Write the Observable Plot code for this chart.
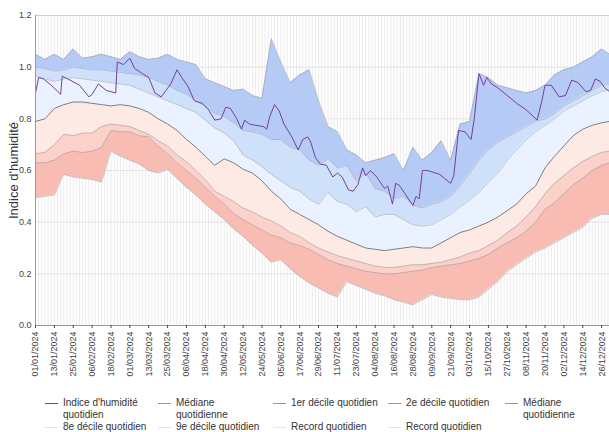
<!DOCTYPE html>
<html><head><meta charset="utf-8">
<script src="https://cdn.jsdelivr.net/npm/d3@7"></script>
<script src="https://cdn.jsdelivr.net/npm/@observablehq/plot@0.6"></script>
<style>
body{margin:0;background:#fff;font-family:"Liberation Sans",Arial,sans-serif;}
#legend{position:relative;width:609px;height:35px;font-size:10px;color:#333;}
.item{position:absolute;display:flex;align-items:flex-start;line-height:12px;white-space:pre-line;}
.sw{width:13px;height:0;border-top:1px solid;margin-top:6px;margin-right:5px;flex:none;}
</style></head><body>
<div id="chart"></div><div id="legend"></div>
<script>
// Day of year (0 = 01/01/2024)
const days = [0,6,12,18,24,30,36,42,48,54,60,66,72,78,84,90,96,102,108,114,120,126,132,138,144,150,156,162,168,174,180,186,192,198,204,210,216,222,228,234,240,246,252,258,264,270,276,282,288,294,300,306,312,318,324,330,336,342,348,354,360,365];
const recordMax = [1.05,1.03,1.05,1.03,1.07,1.035,1.04,1.05,1.04,1.03,1.06,1.04,1.03,1.035,1.05,1.03,1.02,1.01,0.955,0.94,0.925,0.91,0.915,0.89,0.88,1.11,1.02,0.94,0.97,0.99,0.87,0.77,0.75,0.68,0.66,0.63,0.64,0.65,0.665,0.60,0.69,0.64,0.67,0.715,0.64,0.78,0.79,0.975,0.96,0.93,0.92,0.91,0.90,0.91,0.93,0.97,0.99,1.00,1.02,1.04,1.07,1.05];
const decile9 = [1.00,0.995,0.985,0.99,1.00,0.995,0.99,0.99,0.985,0.98,0.975,0.97,0.96,0.945,0.93,0.91,0.895,0.87,0.85,0.82,0.81,0.785,0.755,0.75,0.74,0.72,0.72,0.69,0.68,0.64,0.62,0.645,0.61,0.62,0.56,0.59,0.53,0.52,0.49,0.50,0.465,0.455,0.47,0.48,0.50,0.54,0.59,0.64,0.68,0.71,0.73,0.75,0.77,0.79,0.80,0.82,0.85,0.87,0.89,0.91,0.93,0.935];
const decile8 = [0.965,0.955,0.945,0.955,0.96,0.955,0.95,0.945,0.94,0.935,0.93,0.915,0.90,0.885,0.87,0.855,0.84,0.825,0.795,0.765,0.745,0.715,0.66,0.64,0.615,0.585,0.56,0.535,0.52,0.49,0.47,0.515,0.48,0.47,0.44,0.46,0.42,0.43,0.43,0.41,0.39,0.385,0.39,0.41,0.43,0.46,0.485,0.515,0.555,0.59,0.64,0.68,0.72,0.75,0.775,0.80,0.83,0.85,0.87,0.89,0.905,0.915];
const median = [0.79,0.80,0.84,0.855,0.865,0.865,0.86,0.855,0.85,0.855,0.85,0.84,0.825,0.80,0.78,0.755,0.72,0.69,0.655,0.62,0.645,0.63,0.605,0.59,0.56,0.52,0.49,0.45,0.43,0.41,0.39,0.365,0.345,0.33,0.315,0.30,0.295,0.29,0.295,0.30,0.305,0.30,0.30,0.32,0.34,0.36,0.37,0.385,0.40,0.42,0.445,0.47,0.51,0.54,0.61,0.655,0.695,0.735,0.76,0.775,0.785,0.79];
const decile2 = [0.665,0.67,0.70,0.74,0.735,0.745,0.745,0.77,0.78,0.775,0.77,0.755,0.74,0.715,0.695,0.66,0.635,0.60,0.565,0.52,0.50,0.48,0.455,0.44,0.42,0.405,0.385,0.36,0.345,0.32,0.30,0.285,0.27,0.26,0.25,0.24,0.23,0.225,0.225,0.23,0.235,0.235,0.24,0.245,0.255,0.265,0.28,0.29,0.31,0.33,0.36,0.385,0.42,0.46,0.51,0.55,0.58,0.61,0.635,0.655,0.67,0.675];
const decile1 = [0.63,0.63,0.64,0.665,0.675,0.67,0.675,0.69,0.755,0.75,0.75,0.735,0.73,0.695,0.665,0.63,0.60,0.57,0.535,0.50,0.47,0.435,0.41,0.39,0.37,0.35,0.34,0.32,0.31,0.295,0.275,0.255,0.24,0.23,0.22,0.21,0.205,0.20,0.20,0.205,0.21,0.215,0.225,0.23,0.235,0.24,0.25,0.26,0.275,0.30,0.32,0.34,0.365,0.40,0.45,0.475,0.51,0.545,0.57,0.60,0.62,0.63];
const recordMin = [0.495,0.50,0.505,0.585,0.575,0.57,0.565,0.555,0.675,0.655,0.64,0.625,0.60,0.59,0.605,0.57,0.535,0.505,0.47,0.44,0.41,0.375,0.345,0.31,0.28,0.245,0.255,0.22,0.19,0.165,0.145,0.125,0.11,0.17,0.155,0.14,0.125,0.115,0.10,0.09,0.08,0.10,0.12,0.11,0.105,0.10,0.10,0.11,0.14,0.17,0.21,0.235,0.26,0.285,0.30,0.32,0.34,0.36,0.38,0.415,0.43,0.43];

// Daily humidity index
const lineDays = [0,2,5,10,16,17,22,28,34,36,40,45,51,52,56,60,63,68,72,76,80,83,86,90,93,97,101,106,110,114,118,121,124,128,131,133,136,140,145,147,149,152,155,158,163,167,170,173,175,178,181,185,189,192,195,199,202,205,208,210,213,217,222,224,227,229,231,235,240,242,244,246,249,252,257,260,264,266,269,273,277,279,282,285,287,290,294,300,306,312,319,322,324,328,333,337,341,345,350,353,356,359,362,365];
const lineValues = [0.90,0.96,0.955,0.93,0.895,0.965,0.95,0.93,0.885,0.895,0.935,0.91,0.90,1.02,1.01,1.035,0.995,0.975,0.96,0.90,0.885,0.91,0.935,0.99,0.96,0.925,0.87,0.86,0.835,0.795,0.80,0.845,0.84,0.80,0.76,0.795,0.78,0.775,0.77,0.76,0.81,0.855,0.83,0.78,0.73,0.68,0.72,0.73,0.71,0.65,0.625,0.62,0.575,0.59,0.575,0.525,0.52,0.545,0.61,0.58,0.60,0.575,0.53,0.54,0.47,0.55,0.545,0.51,0.465,0.50,0.49,0.60,0.60,0.595,0.585,0.57,0.55,0.58,0.755,0.75,0.72,0.80,0.975,0.93,0.96,0.935,0.92,0.89,0.86,0.835,0.795,0.87,0.93,0.93,0.885,0.89,0.95,0.94,0.905,0.91,0.955,0.945,0.92,0.905];

const tickLabels = ["01/01/2024","13/01/2024","25/01/2024","06/02/2024","18/02/2024","01/03/2024","13/03/2024","25/03/2024","06/04/2024","18/04/2024","30/04/2024","12/05/2024","24/05/2024","05/06/2024","17/06/2024","29/06/2024","11/07/2024","23/07/2024","04/08/2024","16/08/2024","28/08/2024","09/09/2024","21/09/2024","03/10/2024","15/10/2024","27/10/2024","08/11/2024","20/11/2024","02/12/2024","14/12/2024","26/12/2024"];
const yTicks = [0,0.2,0.4,0.6,0.8,1.0,1.2];
const yTitle = "Indice d'humidité";
const legendLabels = ["Indice d'humidité\nquotidien","Médiane\nquotidienne","1er décile quotidien","2e décile quotidien","Médiane\nquotidienne","8e décile quotidien","9e décile quotidien","Record quotidien","Record quotidien"];

const base = Date.UTC(2024,0,1);
const dayToDate = d => new Date(base + d*864e5);
const rows = days.map((d,i)=>({date:dayToDate(d), rmax:recordMax[i], d9:decile9[i], d8:decile8[i], med:median[i], d2:decile2[i], d1:decile1[i], rmin:recordMin[i]}));
const line = lineDays.map((d,i)=>({date:dayToDate(d), v:lineValues[i]}));
const tickDates = tickLabels.map(s=>{const [dd,mm,yy]=s.split("/").map(Number); return new Date(Date.UTC(yy,mm-1,dd));});
const labelOf = new Map(tickDates.map((t,i)=>[+t, tickLabels[i]]));
const gridDates = d3.range(0,366,2).map(dayToDate);

const bands = [
  ["rmax","d9","#b6caf6"],
  ["d9","d8","#cfe0fb"],
  ["d8","med","#e9f2fe"],
  ["med","d2","#fdeae5"],
  ["d2","d1","#fbd1c9"],
  ["d1","rmin","#f8bcb3"]
];
const edges = ["rmax","d9","d8","d2","d1","rmin"];

const plot = Plot.plot({
  width:609, height:397, marginLeft:35, marginRight:0, marginTop:15, marginBottom:72,
  style:{fontFamily:"Liberation Sans, Arial, sans-serif", fontSize:"9px", color:"#444", background:"#fff", overflow:"visible"},
  x:{type:"utc", domain:[dayToDate(0), dayToDate(365)]},
  y:{domain:[0,1.2]},
  marks:[
    Plot.ruleX(gridDates,{stroke:"#ebebeb", strokeWidth:1}),
    Plot.ruleY([0.2,0.4,0.6,0.8,1.0],{stroke:"#e4e4e4"}),
    Plot.ruleY([1.2],{stroke:"#cfcfcf"}),
    ...bands.map(([a,b,c])=>Plot.areaY(rows,{x:"date", y1:b, y2:a, fill:c})),
    ...edges.map(k=>Plot.line(rows,{x:"date", y:k, stroke:"#9a9aa6", strokeWidth:0.7, strokeOpacity:0.8})),
    Plot.line(rows,{x:"date", y:"med", stroke:"#7d7d85", strokeWidth:1}),
    Plot.line(line,{x:"date", y:"v", stroke:"#74409a", strokeWidth:1}),
    Plot.ruleY([0],{stroke:"#9a9a9a"}),
    Plot.ruleX([dayToDate(0)],{stroke:"#9a9a9a"}),
    Plot.axisY({ticks:yTicks, tickFormat:d3.format(".1f"), tickSize:0, tickPadding:4, label:null}),
    Plot.axisX({ticks:tickDates, tickFormat:d=>labelOf.get(+d), tickRotate:-90, tickSize:3, tickPadding:3, label:null}),
    Plot.text([yTitle],{text:d=>d, frameAnchor:"left", dx:-22, rotate:-90, textAnchor:"middle", fontSize:13, fill:"#333"})
  ]
});
document.getElementById("chart").appendChild(plot);

// Legend
const legendColors = ["#74409a","#999","#999","#999","#999","#e4e4e4","#e4e4e4","#e4e4e4","#e4e4e4"];
const colX = [45,158,273,388,505];
const leg = document.getElementById("legend");
legendLabels.forEach((lab,i)=>{
  const row = i<5?0:1, col = i<5?i:i-5;
  const it = document.createElement("div");
  it.className="item";
  it.style.left = colX[col]+"px";
  it.style.top = (row?24:0)+"px";
  const sw = document.createElement("span"); sw.className="sw"; sw.style.borderTopColor = legendColors[i];
  const tx = document.createElement("span"); tx.textContent = lab;
  it.appendChild(sw); it.appendChild(tx);
  leg.appendChild(it);
});
</script></body></html>
